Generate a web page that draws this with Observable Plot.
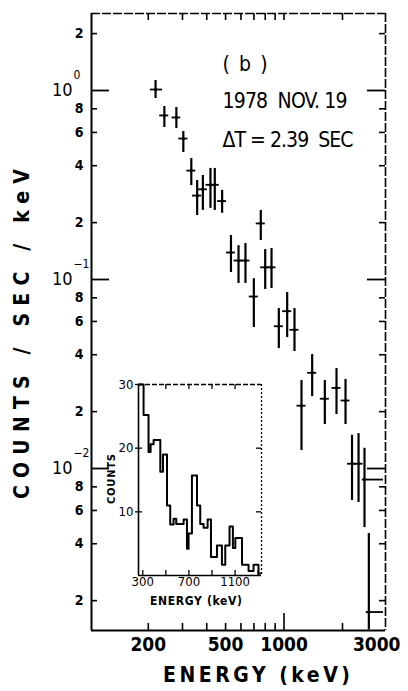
<!DOCTYPE html>
<html><head><meta charset="utf-8">
<script src="https://cdn.jsdelivr.net/npm/d3@7"></script>
<script src="https://cdn.jsdelivr.net/npm/@observablehq/plot@0.6"></script>
<style>
body{margin:0;background:#fff;color:#000;}
#wrap{position:relative;width:408px;height:691px;overflow:hidden;}
#main{position:absolute;left:0;top:0;}
#inset{position:absolute;left:95px;top:370px;}
</style></head>
<body><div id="wrap"><div id="main"></div><div id="inset"></div></div>
<script>
// ---- main spectrum (counts/sec/keV vs energy) ----
const energy   = [218,242,279,303,333,357,382,418,440,480,533,583,633,699,759,800,862,940,1038,1132,1230,1396,1622,1863,2073,2239,2419,2596,2733];
const rate     = [1.012,0.738,0.720,0.557,0.377,0.278,0.300,0.317,0.317,0.260,0.139,0.126,0.126,0.0813,0.198,0.116,0.116,0.0566,0.068,0.0542,0.0215,0.0321,0.0234,0.0267,0.0229,0.0106,0.0106,0.00874,0.00174];
const rateLo   = [0.907,0.637,0.629,0.470,0.314,0.218,0.232,0.238,0.232,0.224,0.109,0.0953,0.0953,0.0557,0.161,0.0886,0.0896,0.0431,0.0493,0.0416,0.01245,0.0240,0.0171,0.0193,0.0171,0.00677,0.00661,0.00487,0.0014];
const rateHi   = [1.129,0.823,0.813,0.607,0.437,0.334,0.355,0.387,0.387,0.296,0.171,0.151,0.155,0.101,0.232,0.144,0.146,0.0702,0.0854,0.0702,0.0292,0.0401,0.0292,0.0338,0.0296,0.0150,0.0153,0.0128,0.00453];
const energyLo = [205,229,265,287,316,338,362,396,417,455,505,553,600,662,719,758,817,891,984,1073,1166,1323,1537,1766,1965,2122,2293,2530,2650];
const energyHi = [237,255,294,320,351,377,403,441,464,506,562,615,668,737,801,844,909,992,1095,1194,1298,1473,1711,1965,2187,2362,2552,3250,3250];

// axis ticks and labels
const xMinorTicks = [200,300,400,500,600,700,800,900,2000];
const xMajorTicks = [1000];
const xTickLabels = [200,500,1000,3000];
const yDecades    = [1,0.1,0.01];
const yDecadeExp  = ["0","\u22121","\u22122"];
const yMinorTicks = [2,0.8,0.6,0.4,0.2,0.08,0.06,0.04,0.02,0.008,0.006,0.004,0.002];
const yMinorLabels= ["2","8","6","4","2","8","6","4","2","8","6","4","2"];

// ---- inset: raw counts histogram ----
const insetEdges  = [263,307,350,368,394,452,475,510,538,567,590,654,683,697,726,770,798,827,862,891,943,986,1015,1052,1081,1102,1160,1217,1260,1303,1320];
const insetCounts = [30,25.2,19.4,20.6,21.3,16.3,19,11,8,8.9,8.1,8.8,4.2,6.6,15.7,11,8.1,7.5,8.8,2.9,4.7,1.7,4.7,7.7,4.3,5.9,1.7,0.7,1.7,0.3];
const insetXTicks = [300,500,700,900,1100,1300];
const insetXLabels= [300,700,1100];
const insetYTicks = [10,20,30];

const FONT = "'DejaVu Sans Condensed', 'DejaVu Sans', sans-serif";
const pts = energy.map((e,i)=>({e, v:rate[i], lo:rateLo[i], hi:rateHi[i], elo:energyLo[i], ehi:energyHi[i]}));
const yMinor = yMinorTicks.map((v,i)=>({v, t:yMinorLabels[i]}));
const yDec = yDecades.map((v,i)=>({v, t:yDecadeExp[i]}));

const W=408, H=691, ML=91, MR=23, MT=13, MB=61;
const PW=W-ML-MR, PH=H-MT-MB;
const X0=102, X1=3330, Y0=0.00139, Y1=2.555;
const K="#000";

const main = Plot.plot({
  width:W, height:H, marginLeft:ML, marginRight:MR, marginTop:MT, marginBottom:MB,
  x:{type:"log", domain:[X0,X1], axis:null},
  y:{type:"log", domain:[Y0,Y1], axis:null},
  style:{background:"transparent", fontFamily:FONT, color:K},
  marks:[
    // frame
    Plot.ruleX([X0], {strokeWidth:2, stroke:K}),
    Plot.ruleY([Y0], {strokeWidth:2, stroke:K}),
    Plot.ruleY([Y1], {strokeWidth:1.6, strokeDasharray:"9,2", stroke:K}),
    Plot.ruleX([X1], {strokeWidth:1.6, strokeDasharray:"9,2", stroke:K}),
    // y ticks (inward, both sides)
    Plot.tickY(yDecades, {y:d=>d, insetRight:PW-18, strokeWidth:1.8, stroke:K}),
    Plot.tickY(yDecades, {y:d=>d, insetLeft:PW-18, strokeWidth:1.8, stroke:K}),
    Plot.tickY(yMinorTicks, {y:d=>d, insetRight:PW-6, strokeWidth:1.6, stroke:K}),
    Plot.tickY(yMinorTicks, {y:d=>d, insetLeft:PW-6, strokeWidth:1.6, stroke:K}),
    // x ticks
    Plot.tickX(xMinorTicks, {x:d=>d, insetTop:PH-7, strokeWidth:1.6, stroke:K}),
    Plot.tickX(xMajorTicks, {x:d=>d, insetTop:PH-17, strokeWidth:1.6, stroke:K}),
    Plot.tickX(xMinorTicks.concat(xMajorTicks), {x:d=>d, insetBottom:PH-7, strokeWidth:1.6, stroke:K}),
    // y labels
    Plot.text(yMinor, {y:"v", text:"t", frameAnchor:"left", dx:-8, textAnchor:"end", fontSize:14, fontWeight:"bold", fill:K}),
    Plot.text(yDec, {y:"v", text:()=>"10", frameAnchor:"left", dx:-19, textAnchor:"end", fontSize:18, fill:K}),
    Plot.text(yDec, {y:"v", text:"t", frameAnchor:"left", dx:-18, dy:-15, textAnchor:"start", fontSize:12, fill:K}),
    // x labels
    Plot.text(xTickLabels, {x:d=>d, text:d=>String(d), frameAnchor:"bottom", dy:20, textAnchor:"middle", fontSize:19, fontWeight:"bold", fill:K}),
    // axis titles
    Plot.text(["ENERGY (keV)"], {frameAnchor:"bottom", dx:18, dy:51, textAnchor:"middle", fontSize:21, fontWeight:"bold", fill:K}),
    Plot.text(["COUNTS / SEC / keV"], {frameAnchor:"left", dx:-69, dy:12, rotate:-90, textAnchor:"middle", fontSize:21, fontWeight:"bold", fill:K}),
    // annotations
    Plot.text(["( b )"], {frameAnchor:"top-left", dx:131, dy:43, textAnchor:"start", fontSize:21, fill:K}),
    Plot.text(["1978  NOV. 19"], {frameAnchor:"top-left", dx:131, dy:80, textAnchor:"start", fontSize:21, fill:K}),
    Plot.text(["\u0394T = 2.39  SEC"], {frameAnchor:"top-left", dx:131, dy:119, textAnchor:"start", fontSize:21, fill:K}),
    // data
    Plot.ruleX(pts, {x:"e", y1:"lo", y2:"hi", strokeWidth:2.2, stroke:K}),
    Plot.ruleY(pts, {y:"v", x1:"elo", x2:"ehi", strokeWidth:1.8, stroke:K}),
    Plot.dot(pts, {x:"e", y:"v", r:1.6, fill:K})
  ]
});
document.getElementById("main").appendChild(main);

function fit(svg, txt, len){
  d3.select(svg).selectAll("text").filter(function(){return this.textContent===txt;})
    .attr("textLength", len).attr("lengthAdjust","spacing");
}
fit(main, "COUNTS / SEC / keV", 330);
fit(main, "ENERGY (keV)", 187);
fit(main, "( b )", 45);
fit(main, "1978  NOV. 19", 125);
fit(main, "\u0394T = 2.39  SEC", 131);

// inset
const IW=175, IH=245, IML=43, IMR=9, IMT=14, IMB=40;
const IPW=IW-IML-IMR, IPH=IH-IMT-IMB;
const IX0=263, IX1=1329;
const hist = insetEdges.map((e,i)=>({e, c: insetCounts[Math.min(i, insetCounts.length-1)]}));
const inset = Plot.plot({
  width:IW, height:IH, marginLeft:IML, marginRight:IMR, marginTop:IMT, marginBottom:IMB,
  x:{domain:[IX0,IX1], axis:null},
  y:{domain:[0,30], axis:null},
  style:{background:"transparent", fontFamily:FONT, color:K},
  marks:[
    Plot.ruleX([IX0], {strokeWidth:1.6, stroke:K}),
    Plot.ruleY([0], {strokeWidth:1.6, stroke:K}),
    Plot.ruleY([30], {strokeWidth:1.3, strokeDasharray:"5,2", stroke:K}),
    Plot.ruleX([IX1], {strokeWidth:1.3, strokeDasharray:"2,2", stroke:K}),
    Plot.tickY(insetYTicks, {y:d=>d, insetLeft:-3, insetRight:IPW-4, strokeWidth:1.3, stroke:K}),
    Plot.tickY(insetYTicks.slice(0,2), {y:d=>d, insetLeft:IPW-5, strokeWidth:1.3, stroke:K}),
    Plot.tickX(insetXTicks, {x:d=>d, insetTop:IPH-5, strokeWidth:1.3, stroke:K}),
    Plot.tickX(insetXTicks.slice(1,5), {x:d=>d, insetBottom:IPH-5, strokeWidth:1.3, stroke:K}),
    Plot.line(hist, {x:"e", y:"c", curve:"step-after", strokeWidth:2, stroke:K}),
    Plot.text(insetYTicks, {y:d=>d, text:d=>String(d), frameAnchor:"left", dx:-5, textAnchor:"end", fontSize:13, fill:K}),
    Plot.text(insetXLabels, {x:d=>d, text:d=>String(d), frameAnchor:"bottom", dy:10, textAnchor:"middle", fontSize:13, fill:K}),
    Plot.text(["ENERGY (keV)"], {frameAnchor:"bottom", dx:-4, dy:29, textAnchor:"middle", fontSize:12, fontWeight:"bold", fill:K}),
    Plot.text(["COUNTS"], {frameAnchor:"left", dx:-27, dy:-1, rotate:-90, textAnchor:"middle", fontSize:11, fontWeight:"bold", fill:K})
  ]
});
document.getElementById("inset").appendChild(inset);
fit(inset, "COUNTS", 50);
fit(inset, "ENERGY (keV)", 92);
</script>
</body></html>
